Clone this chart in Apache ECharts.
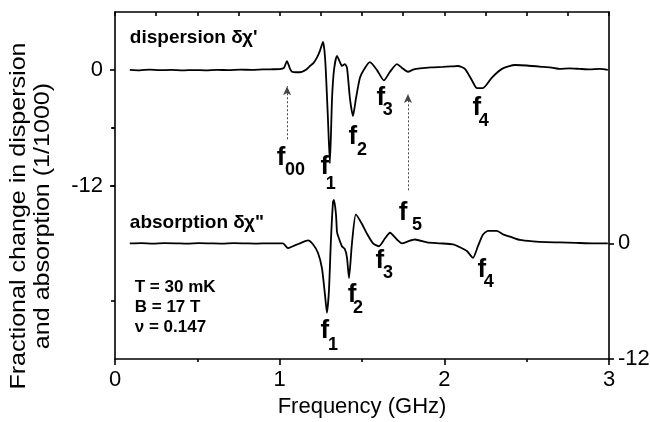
<!DOCTYPE html>
<html>
<head>
<meta charset="utf-8">
<script src="https://cdn.jsdelivr.net/npm/echarts@6/dist/echarts.min.js"></script>
<style>
html,body{margin:0;padding:0;background:#fff;}
#main{width:650px;height:422px;}
</style>
</head>
<body>
<div id="main"></div>
<script>
// ---- data (frequency in GHz, values in 1/1000) ----
// dispersion, read on the left axis
var dispX = [0.09,0.15,0.21,0.27,0.34,0.41,0.48,0.55,0.62,0.69,0.76,0.83,0.90,0.96,1.00,1.026,1.044,1.063,1.075,1.10,1.135,1.16,1.184,1.205,1.227,1.245,1.263,1.272,1.28,1.293,1.305,1.318,1.33,1.348,1.366,1.378,1.396,1.409,1.427,1.445,1.463,1.488,1.518,1.548,1.59,1.633,1.67,1.712,1.743,1.779,1.815,1.852,1.92,1.99,2.04,2.083,2.125,2.168,2.198,2.234,2.289,2.35,2.43,2.5,2.6,2.66,2.70,2.76,2.82,2.88,2.945,2.993];
var dispY = [0.0,-0.05,0.02,-0.04,0.0,-0.06,-0.02,-0.05,0.0,-0.03,0.02,0.0,0.05,0.06,0.07,0.2,0.9,0.1,-0.2,-0.25,-0.2,0.0,0.4,0.7,1.3,2.0,2.9,2.0,0.0,-5.0,-9.7,-3.0,0.0,1.45,0.8,0.4,0.6,0.2,-3.0,-4.8,-3.0,-0.8,0.2,0.8,0.0,-1.1,-0.2,0.6,0.2,-0.2,0.05,0.15,0.25,0.3,0.35,0.4,0.1,-1.1,-1.9,-1.9,-0.8,0.1,0.5,0.45,0.3,0.2,0.1,0.15,0.1,0.05,0.1,0.0];
// absorption, read on the right axis
var absX = [0.09,0.16,0.23,0.30,0.37,0.44,0.51,0.58,0.65,0.72,0.79,0.86,0.93,1.02,1.05,1.08,1.123,1.172,1.202,1.233,1.257,1.275,1.287,1.299,1.311,1.324,1.33,1.342,1.348,1.354,1.378,1.396,1.409,1.421,1.439,1.463,1.5,1.53,1.567,1.603,1.639,1.67,1.712,1.743,1.779,1.821,1.894,1.973,2.052,2.095,2.137,2.174,2.204,2.234,2.265,2.319,2.36,2.398,2.459,2.538,2.62,2.702,2.80,2.902,2.993];
var absY = [0.0,0.03,-0.02,0.02,0.0,-0.03,0.02,0.0,-0.02,0.02,0.0,-0.02,0.0,0.0,-0.5,-0.3,0.0,0.3,-0.1,-1.0,-2.6,-5.3,-7.2,-5.0,0.2,4.3,4.5,3.0,1.2,0.8,-0.3,-0.6,-1.5,-3.6,0.0,3.0,2.0,1.0,0.0,-0.3,0.5,1.1,0.4,0.0,0.2,0.4,0.1,0.0,-0.1,-0.4,-0.8,-1.5,-0.3,0.9,1.3,1.3,0.9,0.7,0.35,0.2,0.12,0.1,0.05,0.0,0.0];
var xTicks = [0,1,2,3];
var yTicksLeft = [0,-12];
var yTicksRight = [0,-12];

var FONT = 'Liberation Sans, Arial, sans-serif';

// text annotations (position in GHz / left-axis units)
var annotations = [
  {t:'dispersion \u03B4\u03C7\'', x:0.09, y:3.3, s:19, pos:'right', w:'bold'},
  {t:'absorption \u03B4\u03C7"', x:0.09, y:-15.9, s:19, pos:'right', w:'bold'},
  {t:'T = 30 mK', x:0.12, y:-22.6, s:17, pos:'right', w:'bold'},
  {t:'B = 17 T', x:0.12, y:-24.6, s:17, pos:'right', w:'bold'},
  {t:'\u03BD = 0.147', x:0.12, y:-26.7, s:17, pos:'right', w:'bold'},
  {t:'f', x:1.008, y:-9.1, s:26, pos:'inside', w:'bold'}, {t:'00', x:1.093, y:-10.4, s:18, pos:'inside', w:'bold'},
  {t:'f', x:1.275, y:-10.1, s:26, pos:'inside', w:'bold'}, {t:'1', x:1.311, y:-11.8, s:18, pos:'inside', w:'bold'},
  {t:'f', x:1.445, y:-7.0, s:26, pos:'inside', w:'bold'}, {t:'2', x:1.50, y:-8.27, s:18, pos:'inside', w:'bold'},
  {t:'f', x:1.615, y:-2.9, s:26, pos:'inside', w:'bold'}, {t:'3', x:1.657, y:-4.2, s:18, pos:'inside', w:'bold'},
  {t:'f', x:2.198, y:-3.9, s:26, pos:'inside', w:'bold'}, {t:'4', x:2.24, y:-5.3, s:18, pos:'inside', w:'bold'},
  {t:'f', x:1.749, y:-14.8, s:26, pos:'inside', w:'bold'}, {t:'5', x:1.834, y:-16.1, s:18, pos:'inside', w:'bold'},
  {t:'f', x:1.275, y:-27.1, s:26, pos:'inside', w:'bold'}, {t:'1', x:1.324, y:-28.5, s:18, pos:'inside', w:'bold'},
  {t:'f', x:1.439, y:-23.3, s:26, pos:'inside', w:'bold'}, {t:'2', x:1.475, y:-24.7, s:18, pos:'inside', w:'bold'},
  {t:'f', x:1.609, y:-19.8, s:26, pos:'inside', w:'bold'}, {t:'3', x:1.658, y:-21.1, s:18, pos:'inside', w:'bold'},
  {t:'f', x:2.228, y:-20.7, s:26, pos:'inside', w:'bold'}, {t:'4', x:2.27, y:-22.0, s:18, pos:'inside', w:'bold'}
];
// arrows: [x, yFrom(bottom), yTo(top)] in GHz / left-axis units
var arrows = [[1.045,-7.2,-1.7],[1.779,-12.5,-2.5]];

function pairs(xs, ys){ return xs.map(function(x,i){ return [x, ys[i]]; }); }

var chart = echarts.init(document.getElementById('main'), null, {renderer:'canvas'});
var axisLineStyle = {color:'#000', width:1.6};
var labelStyle = {color:'#000', fontSize:22, fontFamily:FONT};

chart.setOption({
  animation:false,
  backgroundColor:'#fff',
  grid:{left:115, right:41, top:12, bottom:63, containLabel:false, outerBoundsMode:'none'},
  xAxis:[
    {type:'value', position:'bottom', min:0, max:3, interval:1,
     axisLine:{show:true, lineStyle:axisLineStyle, onZero:false},
     axisTick:{show:true, inside:false, length:6, lineStyle:axisLineStyle},
     minorTick:{show:true, splitNumber:2, length:3, lineStyle:{color:'#000', width:1.6}},
     splitLine:{show:false}, minorSplitLine:{show:false},
     axisLabel:Object.assign({margin:10, customValues:xTicks}, labelStyle),
     name:'Frequency (GHz)', nameLocation:'middle', nameGap:37,
     nameTextStyle:{color:'#000', fontSize:22, fontFamily:FONT}},
    {type:'value', position:'top', min:0, max:3, interval:0.25,
     axisLine:{show:true, lineStyle:axisLineStyle, onZero:false},
     axisTick:{show:true, inside:true, length:4, lineStyle:axisLineStyle},
     axisLabel:{show:false}, splitLine:{show:false}}
  ],
  yAxis:[
    {type:'value', position:'left', min:-30, max:6, interval:6,
     axisLine:{show:true, lineStyle:axisLineStyle, onZero:false},
     axisTick:{show:true, inside:false, length:5, customValues:yTicksLeft, lineStyle:axisLineStyle},
     axisLabel:Object.assign({margin:12, customValues:yTicksLeft}, labelStyle),
     splitLine:{show:false}},
    {type:'value', position:'right', min:-12, max:24, interval:6,
     axisLine:{show:true, lineStyle:axisLineStyle, onZero:false},
     axisTick:{show:true, inside:false, length:5, customValues:yTicksRight, lineStyle:axisLineStyle},
     axisLabel:Object.assign({margin:9, customValues:yTicksRight}, labelStyle),
     splitLine:{show:false}},
    {type:'value', position:'left', min:-30, max:6, interval:6,
     axisLine:{show:false},
     axisTick:{show:true, inside:false, length:3, customValues:[-6], lineStyle:axisLineStyle},
     axisLabel:{show:false}, splitLine:{show:false}},
    {type:'value', position:'right', min:-12, max:24, interval:6,
     axisLine:{show:false},
     axisTick:{show:true, inside:true, length:4, customValues:[12,6,-6], lineStyle:axisLineStyle},
     axisLabel:{show:false}, splitLine:{show:false}}
  ],
  graphic:[{
    type:'text', x:31, y:216, rotation:Math.PI/2, scaleX:1.14,
    style:{text:'Fractional change in dispersion\nand absorption (1/1000)', fill:'#000',
      font:'22px ' + FONT, textAlign:'center', textVerticalAlign:'middle', lineHeight:24}
  }],
  series:[
    {type:'line', name:'dispersion', xAxisIndex:0, yAxisIndex:0, data:pairs(dispX, dispY),
     showSymbol:false, smooth:0.2, lineStyle:{color:'#000', width:1.8}, silent:true,
     markLine:{silent:true, symbol:['none','arrow'], symbolSize:[6,9],
       lineStyle:{type:[2,2], color:'#444', width:1}, label:{show:false},
       itemStyle:{color:'#222'},
       data:arrows.map(function(a){ return [{coord:[a[0],a[1]]},{coord:[a[0],a[2]]}]; })}},
    {type:'line', name:'absorption', xAxisIndex:0, yAxisIndex:1, data:pairs(absX, absY),
     showSymbol:false, smooth:0.2, lineStyle:{color:'#000', width:1.8}, silent:true},
    {type:'scatter', xAxisIndex:0, yAxisIndex:0, symbolSize:0, silent:true,
     itemStyle:{opacity:1},
     data:annotations.map(function(a){
       return {value:[a.x, a.y], label:{show:true, position:a.pos, distance:0, formatter:a.t,
         fontSize:a.s, fontFamily:FONT, color:'#000', opacity:1, fontWeight:a.w}};
     })}
  ]
});
</script>
</body>
</html>
